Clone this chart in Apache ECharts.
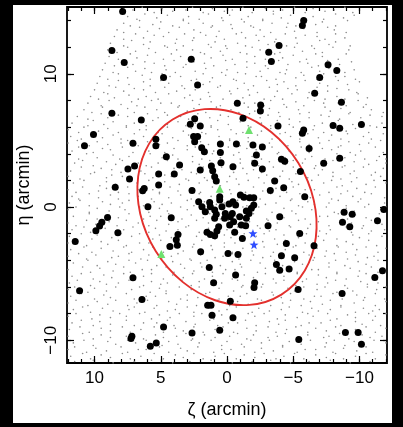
<!DOCTYPE html>
<html><head><meta charset="utf-8">
<script src="https://cdn.jsdelivr.net/npm/echarts@6/dist/echarts.min.js"></script>
<style>
html,body{margin:0;padding:0;background:#000;}
#paper{position:absolute;left:13px;top:5px;width:379px;height:418px;background:#fff;}
#chart{position:absolute;left:0;top:0;width:403px;height:427px;}
</style></head><body>
<div id="paper"></div><div id="chart"></div>
<script>
// axis ranges (arcmin)
const X_RANGE = [-12.08, 12.08];
const Y_RANGE = [-11.71, 15.02];
const X_MAJOR = [-10, -5, 0, 5, 10];
const X_MINOR = [-12,-11,-10,-9,-8,-7,-6,-5,-4,-3,-2,-1,0,1,2,3,4,5,6,7,8,9,10,11,12];
const Y_MAJOR = [-10, 0, 10];
const Y_MINOR = [-10,-8,-6,-4,-2,0,2,4,6,8,10,12,14];

// cluster member candidates [zeta, eta]
const MEMBERS = [[7.88,14.69],[8.69,11.75],[7.76,10.85],[2.70,11.10],[4.79,9.72],[2.22,9.17],[8.69,7.04],[6.47,6.54],[10.08,5.44],[10.76,4.61],[7.10,4.79],[-0.78,7.79],[-1.21,6.67],[-2.54,7.67],[-2.52,7.22],[-3.15,11.63],[-3.35,10.93],[-3.93,12.13],[-5.79,14.01],[-5.69,13.63],[-7.63,10.68],[-8.29,10.25],[-7.00,9.72],[-6.62,8.55],[-8.64,7.87],[-3.85,6.09],[-8.01,6.12],[-8.51,5.91],[-10.15,6.19],[-5.79,5.79],[-5.69,5.54],[-6.20,4.39],[-7.30,3.28],[-8.51,3.66],[-11.84,-0.18],
[2.44,6.62],[2.77,6.22],[2.02,6.09],[2.52,5.29],[2.22,5.29],[2.44,4.91],[5.37,5.09],[5.37,4.61],[4.58,3.78],[1.91,4.46],[1.71,4.16],[0.50,4.74],[0.50,4.09],[-0.71,4.74],[-1.96,4.66],[-2.67,4.51],[-2.22,3.91],[-2.09,3.28],[-0.45,3.03],[-2.67,2.86],[-4.11,3.58],[-4.36,3.43],[-5.54,2.66],[-3.60,1.95],[-3.27,1.25],[-4.28,1.45],[-5.87,0.78],[3.58,3.16],[2.02,2.78],[1.18,3.08],[1.08,2.73],[0.93,2.28],[0.81,1.95],[0.45,3.33],[3.98,2.48],[5.16,2.48],[5.16,1.65],[6.25,1.40],[6.37,1.23],[7.48,2.86],[6.98,3.08],[7.36,2.11],[8.44,1.48],[2.64,1.25],[5.97,0.03],[4.21,-0.80],[9.02,-0.78],[9.45,-1.15],[9.62,-1.43],[9.90,-1.78],[8.24,-1.93],[11.46,-2.58],[3.70,-2.06],[3.83,-2.46],[4.31,-2.96],[3.75,-2.86],[1.99,-3.36],[1.34,-4.54],[1.01,-5.69],[-0.08,-3.48],[-0.83,-3.56],[-0.65,-5.11],[-4.11,-3.66],[-5.11,-3.81],[-3.73,-4.31],[-3.98,-4.74],[-4.69,-4.66],[-2.09,-5.69],[-2.04,-6.04],[-5.37,-6.19],[-0.25,-7.07],[1.46,-7.37],[1.21,-7.37],[1.13,-8.12],[-0.45,-8.32],[0.55,-9.25],[2.64,-9.45],[4.79,-9.00],[5.34,-10.20],[5.79,-10.45],[7.18,-9.70],[7.25,-9.87],[7.10,-5.31],[6.42,-6.94],[11.13,-6.29],[-5.42,-9.95],[-8.69,-6.49],[-8.94,-9.42],[-9.90,-9.42],[-10.15,-10.30],[-11.16,-5.29],[-11.74,-4.79],[-11.36,-1.03],[-8.84,-0.40],[-9.45,-0.55],[-8.72,-1.15],[-9.27,-1.48],[-5.49,-1.98],[-4.48,-2.73],[-6.57,-2.91],[-3.98,-0.73],[-3.10,-1.40],[-1.16,-2.36],
[2.14,0.40],[1.89,0.03],[1.64,-0.35],[1.31,0.35],[1.26,0.03],[0.93,-0.23],[0.81,-0.55],[0.93,-0.85],[0.55,0.78],[0.55,0.53],[0.38,0.03],[0.13,-0.48],[0.18,-0.85],[1.51,-1.90],[1.26,-2.06],[0.93,-2.16],[0.63,-1.48],[0.76,-1.80],[-1.01,0.90],[-1.28,0.73],[-1.71,0.70],[-2.02,0.70],[-0.45,0.40],[-0.15,0.23],[-0.65,0.15],[-2.02,0.15],[-1.84,-0.10],[-1.46,-0.30],[-1.66,-0.48],[-0.40,-0.48],[-0.25,-0.73],[-0.96,-0.73],[-1.46,-0.85],[-0.50,-1.10],[-0.20,-1.35],[-1.08,-1.35],[-1.41,-1.40],[-0.58,-1.90]];

const GREEN_TRIANGLES = [[-1.66,5.79],[0.55,1.38],[4.96,-3.53]];
const BLUE_STARS = [[-1.96,-1.98],[-2.04,-2.83]];

// ellipse: centre zeta, centre eta, semi-major, semi-minor, position angle of major axis (deg, from +eta toward +zeta)
const ELLIPSE = [0.0, 0.0, 7.75, 6.32, 32];

// field stars, flat pairs zeta,eta in tenths of arcmin
const FIELD_TENTHS = [
71,148,64,150,55,146,49,149,41,147,31,148,26,150,18,146,11,149,2,147,-4,148,-12,150,-19,146,-29,149,-35,147,-42,148,-51,150,-59,146,-65,149,-74,147,-81,148,-89,150,-95,146,
75,143,68,141,62,145,53,142,45,144,33,141,29,143,21,141,14,145,4,142,-2,144,-11,141,-16,143,-27,141,-35,145,-41,142,-48,144,-60,141,-65,143,-73,141,-82,145,-88,142,-96,144,
78,138,73,136,66,140,56,137,50,139,41,136,33,140,29,138,18,138,11,136,3,140,-3,137,-13,139,-18,136,-27,140,-34,138,-46,138,-52,136,-60,140,-67,137,-72,139,-82,136,-91,140,
83,133,78,131,66,135,60,132,51,134,44,131,36,135,25,133,20,131,12,135,6,132,-4,134,-11,131,-20,135,-25,133,-33,131,-45,135,-51,132,-58,134,-68,131,-76,135,-81,133,-90,131,
85,128,78,126,69,130,63,127,55,129,48,128,38,126,32,130,25,127,16,129,8,128,2,126,-7,130,-14,127,-22,129,-28,128,-37,126,-44,130,-52,127,-59,129,-68,128,-74,126,-82,130,-89,127,
88,123,78,121,72,125,63,122,58,124,47,121,39,123,33,121,26,125,14,122,9,124,1,121,-8,123,-14,121,-24,125,-31,122,-36,124,-45,121,-53,123,-64,121,-70,125,-77,122,-82,124,-93,121,
90,118,83,116,75,120,69,117,59,119,54,116,45,120,38,118,26,118,20,116,12,120,5,117,0,119,-10,116,-19,120,-25,118,-33,118,-40,116,-51,120,-57,117,-66,119,-72,116,-80,120,-92,118,
89,113,82,111,73,115,68,112,60,114,48,111,42,115,35,113,25,111,17,115,12,112,3,114,-4,111,-15,115,-21,113,-29,111,-36,115,-42,112,-50,114,-60,111,-67,115,-72,113,-84,111,-90,115,
92,108,85,106,77,110,71,107,62,109,55,108,47,106,40,110,31,107,25,109,17,108,10,106,1,110,-6,107,-15,109,-21,108,-29,106,-39,110,-46,107,-55,109,-61,108,-69,106,-76,110,-85,107,-94,109,
94,103,86,101,75,105,69,102,62,104,57,101,46,103,39,101,33,105,24,102,16,104,4,101,0,103,-8,101,-15,105,-25,102,-31,104,-40,101,-45,103,-56,101,-64,105,-70,102,-77,104,-89,101,-96,103,
96,98,90,96,82,100,75,97,64,99,58,96,49,100,43,98,35,98,23,96,18,100,11,97,1,99,-5,96,-14,100,-22,98,-26,98,-37,96,-44,100,-52,97,-58,99,-68,96,-73,100,-82,98,-89,98,-97,96,
98,93,89,91,82,95,74,92,63,94,58,91,50,95,44,93,34,91,27,95,18,92,13,94,5,91,-7,95,-13,93,-20,91,-30,95,-38,92,-43,94,-52,91,-59,95,-70,93,-76,91,-84,95,-91,92,-100,94,
100,88,93,86,84,90,78,87,70,89,63,88,54,86,47,90,38,87,32,89,24,88,14,86,7,90,-2,87,-8,89,-16,88,-23,86,-32,90,-38,87,-46,89,-53,88,-62,86,-68,90,-76,87,-83,89,-92,88,-98,86,
103,83,97,81,90,85,85,82,74,84,67,81,61,83,52,81,44,85,32,82,28,84,20,81,13,83,3,81,-3,85,-12,82,-17,84,-28,81,-36,83,-42,81,-49,85,-61,82,-66,84,-74,81,-83,83,-89,81,-99,85,-106,82,
105,78,95,76,89,80,80,77,72,79,68,76,57,80,50,78,42,78,36,76,26,80,21,77,12,79,5,76,-7,80,-13,78,-21,78,-28,76,-33,80,-43,77,-52,79,-58,76,-66,80,-73,78,-84,78,-90,76,-99,80,-105,77,
108,73,102,71,94,75,87,72,75,74,70,71,62,75,53,73,47,71,37,75,30,72,25,74,16,71,8,75,-3,73,-9,71,-16,75,-21,72,-32,74,-39,71,-45,75,-54,73,-62,71,-74,75,-78,72,-86,74,-93,71,-103,75,-109,73,-118,71,
113,68,105,66,95,70,90,67,82,69,75,68,66,66,60,70,52,67,45,69,35,68,29,66,22,70,13,67,5,69,-1,68,-10,66,-17,70,-25,67,-31,69,-40,68,-47,66,-55,70,-62,67,-71,69,-77,68,-85,66,-92,70,-101,67,-108,69,-117,68,
117,63,105,61,101,65,93,62,86,64,76,61,70,63,61,61,56,65,45,62,37,64,31,61,24,63,12,61,7,65,-1,62,-10,64,-16,61,-26,63,-33,61,-38,65,-47,62,-55,64,-66,61,-72,63,-79,61,-84,65,-95,62,-102,64,-108,61,-117,63,
120,58,112,56,108,60,97,57,90,59,82,56,76,60,66,58,61,58,52,56,45,60,33,57,27,59,19,56,12,60,7,58,-3,58,-12,56,-18,60,-26,57,-33,59,-44,56,-50,60,-59,58,-65,58,-73,56,-85,60,-90,57,-97,59,-107,56,-113,60,
118,53,110,51,99,55,94,52,86,54,80,51,70,55,63,53,54,51,49,55,41,52,29,54,23,51,16,55,6,53,-2,51,-7,55,-16,52,-23,54,-34,51,-40,55,-48,53,-55,51,-61,55,-69,52,-79,54,-86,51,-91,55,-103,53,-109,51,-118,55,
120,48,113,50,104,46,98,49,90,47,80,48,75,50,67,46,60,49,51,47,45,48,37,50,30,46,20,49,14,47,7,48,-2,50,-10,46,-16,49,-25,47,-32,48,-40,50,-46,46,-55,49,-62,47,-70,48,-77,50,-86,46,-92,49,-100,47,-107,48,-116,50,
117,42,112,45,101,41,94,44,88,43,79,45,71,41,59,42,55,45,47,41,40,44,30,43,24,45,15,41,10,42,-1,45,-9,41,-15,44,-22,43,-34,45,-39,41,-47,42,-56,45,-62,41,-72,44,-79,43,-84,45,-93,41,-101,42,-112,45,-118,41,
121,38,112,36,106,40,98,37,86,39,81,36,74,38,64,36,58,40,49,37,41,39,37,36,26,38,19,36,11,40,5,37,-5,39,-10,36,-19,38,-26,36,-38,40,-44,37,-52,39,-59,36,-64,38,-74,36,-83,40,-89,37,-97,39,-104,36,-115,38,-120,36,
115,33,109,35,101,31,91,34,84,32,79,35,67,33,61,31,52,33,45,35,37,31,26,34,21,32,13,35,7,33,-3,31,-10,33,-19,35,-24,31,-32,34,-44,32,-50,35,-57,33,-67,31,-75,33,-80,35,-89,31,-96,34,-107,32,-113,35,-120,33,
118,27,110,30,100,26,95,29,87,28,80,26,71,30,65,27,57,30,50,26,40,29,34,28,27,26,18,30,10,27,4,30,-5,26,-12,29,-20,28,-26,26,-35,30,-42,27,-50,30,-57,26,-66,29,-72,28,-80,26,-87,30,-96,27,-103,30,-112,26,-118,29,
120,23,111,21,103,25,91,22,87,24,79,23,72,21,62,25,56,22,47,24,42,23,31,21,23,25,17,22,10,24,-2,23,-7,21,-15,25,-24,22,-30,24,-40,23,-47,21,-52,25,-61,22,-69,24,-80,23,-86,21,-93,25,-98,22,-109,24,-116,23,
116,18,108,20,96,16,91,19,84,17,74,20,68,18,59,20,51,16,47,19,36,17,29,20,21,18,15,20,5,16,0,19,-9,17,-16,20,-28,18,-34,20,-42,16,-49,19,-54,17,-64,20,-73,18,-79,20,-87,16,-94,19,-105,17,-111,20,-120,18,
120,13,114,11,109,15,97,12,91,14,82,11,75,15,67,13,56,13,51,11,43,15,37,12,27,14,20,11,11,15,6,13,-2,13,-14,11,-20,15,-27,12,-37,14,-45,11,-50,15,-59,13,-66,13,-77,11,-83,15,-91,12,-98,14,-104,11,-112,15,
117,8,112,6,104,10,97,7,88,9,82,6,74,10,67,8,57,6,51,10,44,7,35,9,27,6,21,10,12,8,5,6,-3,10,-9,7,-18,9,-25,6,-33,10,-40,8,-49,6,-55,10,-63,7,-70,9,-79,6,-86,10,-95,8,-101,6,-109,10,-119,7,
119,3,111,5,104,1,94,4,88,2,79,3,74,5,63,1,55,4,49,2,42,3,30,5,25,1,17,4,8,2,2,3,-8,5,-15,1,-20,4,-29,2,-37,3,-48,5,-54,1,-61,4,-66,2,-77,3,-84,5,-90,1,-99,4,-107,2,-119,3,
120,-2,114,0,104,-4,98,-1,89,-3,81,0,77,-2,66,0,59,-4,51,-1,45,-3,35,0,30,-2,21,0,14,-4,2,-1,-4,-3,-12,0,-19,-2,-24,0,-34,-4,-43,-1,-49,-3,-57,0,-64,-2,-75,0,-81,-4,-90,-1,-96,-3,-104,0,-116,-2,-120,0,
116,-7,104,-5,98,-9,89,-6,82,-8,74,-5,63,-9,58,-7,50,-7,44,-5,34,-9,27,-6,18,-8,13,-5,5,-9,-7,-7,-13,-7,-20,-5,-30,-9,-38,-6,-43,-8,-52,-5,-59,-9,-70,-7,-76,-7,-84,-5,-91,-9,-97,-6,-105,-8,-115,-5,
120,-12,114,-14,106,-10,99,-13,89,-11,83,-14,76,-10,67,-12,59,-14,53,-10,44,-13,37,-11,29,-14,23,-10,14,-12,7,-14,-1,-10,-8,-13,-17,-11,-23,-14,-31,-10,-38,-12,-47,-14,-54,-10,-63,-13,-69,-11,-77,-14,-87,-10,-94,-12,-103,-14,-109,-10,-117,-13,
117,-17,108,-15,103,-19,92,-16,84,-18,78,-17,71,-15,59,-19,54,-16,46,-18,37,-17,31,-15,21,-19,14,-16,9,-18,0,-17,-8,-15,-19,-19,-25,-16,-32,-18,-37,-17,-48,-15,-55,-19,-61,-16,-70,-18,-78,-17,-90,-15,-94,-19,-102,-16,-109,-18,-119,-17,
119,-22,110,-20,102,-24,98,-21,87,-23,80,-20,72,-22,66,-20,56,-24,51,-21,42,-23,35,-20,23,-22,17,-20,9,-24,2,-21,-3,-23,-13,-20,-22,-22,-28,-20,-36,-24,-43,-21,-54,-23,-60,-20,-69,-22,-75,-20,-83,-24,-95,-21,-100,-23,-107,-20,-117,-22,
120,-27,114,-25,106,-29,95,-26,90,-28,82,-25,76,-29,66,-27,59,-27,50,-25,45,-29,37,-26,25,-28,19,-25,12,-29,2,-27,-6,-27,-11,-25,-20,-29,-27,-26,-38,-28,-44,-25,-52,-29,-59,-27,-65,-27,-73,-25,-83,-29,-90,-26,-95,-28,-107,-25,-113,-29,
118,-32,108,-30,102,-34,95,-31,86,-33,78,-30,72,-34,63,-32,56,-30,48,-34,42,-31,33,-33,26,-30,18,-34,11,-32,2,-30,-4,-34,-12,-31,-19,-33,-28,-30,-35,-34,-44,-32,-50,-30,-58,-34,-68,-31,-75,-33,-84,-30,-90,-34,-98,-32,-105,-30,-114,-34,-120,-31,
120,-37,112,-35,106,-39,99,-36,87,-38,82,-37,74,-35,65,-39,59,-36,49,-38,42,-37,37,-35,28,-39,20,-36,9,-38,3,-37,-4,-35,-9,-39,-20,-36,-27,-38,-33,-37,-42,-35,-50,-39,-62,-36,-66,-38,-74,-37,-81,-35,-91,-39,-97,-36,-106,-38,-111,-37,
116,-42,105,-40,98,-44,90,-41,84,-43,74,-40,69,-42,60,-40,53,-44,41,-41,35,-43,27,-40,20,-42,15,-40,5,-44,-4,-41,-10,-43,-18,-40,-25,-42,-36,-40,-42,-44,-51,-41,-57,-43,-65,-40,-77,-42,-82,-40,-89,-44,-99,-41,-105,-43,-114,-40,
120,-47,109,-45,103,-49,96,-46,86,-48,78,-45,73,-49,64,-47,57,-47,46,-45,40,-49,32,-46,25,-48,19,-45,11,-49,1,-47,-6,-47,-11,-45,-23,-49,-29,-46,-38,-48,-45,-45,-53,-49,-64,-47,-69,-47,-77,-45,-83,-49,-93,-46,-100,-48,-109,-45,-114,-49,
117,-52,110,-50,101,-54,93,-51,87,-53,78,-50,71,-54,63,-52,57,-50,48,-54,41,-51,33,-53,26,-50,17,-54,11,-52,3,-50,-4,-54,-13,-51,-20,-53,-29,-50,-35,-54,-43,-52,-53,-50,-60,-54,-69,-51,-75,-53,-83,-50,-90,-54,-99,-52,-105,-50,-113,-54,
119,-57,113,-55,103,-59,96,-56,91,-58,82,-57,74,-55,63,-59,57,-56,50,-58,45,-57,34,-55,27,-59,21,-56,12,-58,4,-57,-8,-55,-12,-59,-20,-56,-27,-58,-37,-57,-43,-55,-52,-59,-57,-56,-68,-58,-76,-57,-82,-55,-89,-59,-101,-56,-106,-58,-114,-57,
120,-62,115,-60,105,-64,100,-61,91,-63,84,-60,72,-62,66,-60,58,-64,51,-61,46,-63,36,-60,27,-62,21,-60,13,-64,6,-61,-5,-63,-11,-60,-20,-62,-26,-60,-34,-64,-46,-61,-51,-63,-58,-60,-68,-62,-74,-60,-83,-64,-91,-61,-95,-63,-106,-60,-113,-62,-120,-60,
118,-67,110,-65,100,-69,93,-66,88,-68,76,-65,70,-69,61,-67,54,-67,46,-65,35,-69,30,-66,22,-68,16,-65,6,-69,-1,-67,-10,-67,-15,-65,-23,-69,-35,-66,-41,-68,-48,-65,-58,-69,-66,-67,-71,-67,-80,-65,-87,-69,-98,-66,-104,-68,-112,-65,-119,-69,
120,-72,114,-70,105,-74,98,-71,90,-73,84,-70,75,-74,68,-72,60,-70,53,-74,44,-71,38,-73,30,-70,23,-74,14,-72,7,-70,-2,-74,-8,-71,-16,-73,-26,-70,-33,-74,-42,-72,-48,-70,-56,-74,-63,-71,-72,-73,-78,-70,-86,-74,-96,-72,-103,-70,-112,-74,-120,-71,
116,-77,109,-75,103,-79,94,-76,86,-78,74,-77,70,-75,62,-79,55,-76,45,-78,39,-77,30,-75,25,-79,14,-76,6,-78,0,-77,-7,-75,-19,-79,-24,-76,-32,-78,-41,-77,-47,-75,-57,-79,-64,-76,-69,-78,-78,-77,-86,-75,-97,-79,-103,-76,-110,-78,-115,-77,
120,-82,114,-80,102,-84,96,-81,88,-83,81,-80,76,-82,66,-80,57,-84,51,-81,43,-83,36,-80,25,-82,19,-80,10,-84,4,-81,-4,-83,-16,-80,-21,-82,-28,-80,-38,-84,-44,-81,-53,-83,-61,-80,-65,-82,-76,-80,-83,-84,-91,-81,-97,-83,-107,-80,-112,-82,-120,-80,
117,-87,110,-85,101,-89,96,-86,88,-88,76,-85,70,-89,63,-87,53,-87,45,-85,40,-89,31,-86,24,-88,13,-85,7,-89,-1,-87,-8,-87,-14,-85,-22,-89,-32,-86,-39,-88,-44,-85,-56,-89,-62,-87,-71,-87,-78,-85,-86,-89,-97,-86,-102,-88,-110,-85,-116,-89,
119,-92,111,-90,104,-94,95,-91,88,-93,79,-90,73,-94,65,-92,55,-90,48,-94,39,-91,33,-93,25,-90,18,-94,9,-92,3,-90,-5,-94,-15,-91,-22,-93,-31,-90,-37,-94,-45,-92,-52,-90,-61,-94,-67,-91,-75,-93,-82,-90,-91,-94,-97,-92,-105,-90,-112,-94,-120,-91,
120,-97,109,-95,101,-99,95,-96,88,-98,76,-97,71,-95,63,-99,54,-96,48,-98,38,-97,31,-95,26,-99,17,-96,9,-98,-2,-97,-8,-95,-15,-99,-20,-96,-31,-98,-38,-97,-44,-95,-53,-99,-61,-96,-73,-98,-77,-97,-85,-95,-92,-99,-102,-96,-108,-98,-117,-97,
116,-102,108,-100,101,-104,90,-101,84,-103,75,-100,69,-102,61,-100,49,-104,44,-101,37,-103,27,-100,21,-102,12,-100,4,-104,0,-101,-11,-103,-18,-100,-26,-102,-32,-100,-42,-104,-47,-101,-56,-103,-63,-100,-75,-102,-81,-100,-89,-104,-96,-101,-101,-103,-111,-100,-120,-102,
120,-107,115,-105,106,-109,99,-106,91,-108,80,-105,75,-109,67,-107,61,-107,51,-105,44,-109,35,-106,30,-108,22,-105,10,-109,4,-107,-3,-107,-13,-105,-21,-109,-26,-106,-35,-108,-42,-105,-53,-109,-59,-107,-67,-107,-74,-105,-80,-109,-88,-106,-98,-108,-105,-105,-110,-109,
118,-112,109,-110,103,-114,95,-111,88,-113,79,-110,73,-114,65,-112,55,-110,48,-114,39,-111,33,-113,25,-110,18,-114,9,-112,2,-110,-7,-114,-13,-111,-21,-113,-28,-110,-37,-114,-43,-112,-51,-110,-58,-114,-67,-111,-75,-113,-82,-110,-88,-114,-97,-112,-105,-110,-112,-114,-120,-111,
115,-116,101,-115,86,-117,70,-116,57,-115,41,-117,28,-116,12,-115,-4,-117,-19,-116,-33,-115,-48,-117,-62,-116,-78,-115,-93,-117,-108,-116
];

const FIELD = [];
for (let i = 0; i < FIELD_TENTHS.length; i += 2) FIELD.push([FIELD_TENTHS[i] / 10, FIELD_TENTHS[i + 1] / 10]);

const FONT = 'Liberation Sans';
const minusFmt = v => (v < 0 ? '\u2212' + Math.abs(v) : String(v));
const STAR = 'path://M0,-10L2.35,-3.24L9.51,-3.09L3.8,1.24L5.88,8.09L0,4L-5.88,8.09L-3.8,1.24L-9.51,-3.09L-2.35,-3.24Z';

function xAx(pos, vals, len, labels) {
  return {
    type: 'value', position: pos, min: X_RANGE[0], max: X_RANGE[1], inverse: true,
    splitLine: {show: false}, axisLine: {show: false, onZero: false},
    axisTick: {show: true, inside: true, length: len, customValues: vals, lineStyle: {color: '#000', width: 1.2}},
    axisLabel: labels ? {show: true, customValues: X_MAJOR, formatter: minusFmt, color: '#000', fontSize: 17, fontFamily: FONT, margin: 7} : {show: false},
    name: labels ? '\u03b6 (arcmin)' : '', nameLocation: 'middle', nameGap: 38,
    nameTextStyle: {color: '#000', fontSize: 18, fontFamily: FONT}
  };
}
function yAx(pos, vals, len, labels) {
  return {
    type: 'value', position: pos, min: Y_RANGE[0], max: Y_RANGE[1],
    splitLine: {show: false}, axisLine: {show: false, onZero: false},
    axisTick: {show: true, inside: true, length: len, customValues: vals, lineStyle: {color: '#000', width: 1.2}},
    axisLabel: labels ? {show: true, customValues: Y_MAJOR, formatter: minusFmt, rotate: 90, color: '#000', fontSize: 17, fontFamily: FONT, margin: 7} : {show: false},
    name: labels ? '\u03b7 (arcmin)' : '', nameLocation: 'middle', nameGap: 34,
    nameTextStyle: {color: '#000', fontSize: 18, fontFamily: FONT}
  };
}

const chart = echarts.init(document.getElementById('chart'), null, {renderer: 'canvas'});
chart.setOption({
  animation: false,
  backgroundColor: 'transparent',
  grid: {left: 67, top: 7, width: 320, height: 356, show: true, borderColor: '#000', borderWidth: 1.8, backgroundColor: '#fff'},
  xAxis: [xAx('bottom', X_MAJOR, 7, true), xAx('bottom', X_MINOR, 4, false), xAx('top', X_MAJOR, 7, false), xAx('top', X_MINOR, 4, false)],
  yAxis: [yAx('left', Y_MAJOR, 7, true), yAx('left', Y_MINOR, 4, false), yAx('right', Y_MAJOR, 7, false), yAx('right', Y_MINOR, 4, false)],
  series: [
    {type: 'scatter', data: FIELD, symbol: 'circle', symbolSize: 1.6, itemStyle: {color: '#8c8c8c', opacity: 1}, silent: true, z: 1},
    {type: 'custom', data: [ELLIPSE], silent: true, z: 2, clip: false,
     encode: {x: 0, y: 1},
     renderItem: function (params, api) {
       const cz = api.value(0), ce = api.value(1), a = api.value(2), b = api.value(3), pa = api.value(4) * Math.PI / 180;
       const c = api.coord([cz, ce]);
       const pA = api.coord([cz + a * Math.sin(pa), ce + a * Math.cos(pa)]);
       const pB = api.coord([cz + b * Math.cos(pa), ce - b * Math.sin(pa)]);
       const rx = Math.hypot(pA[0] - c[0], pA[1] - c[1]);
       const ry = Math.hypot(pB[0] - c[0], pB[1] - c[1]);
       const ang = Math.atan2(pA[1] - c[1], pA[0] - c[0]);
       return {type: 'ellipse', x: c[0], y: c[1], rotation: -ang,
               shape: {cx: 0, cy: 0, rx: rx, ry: ry},
               style: {fill: 'none', stroke: '#e3302d', lineWidth: 1.9}};
     }},
    {type: 'scatter', data: MEMBERS, symbol: 'circle', symbolSize: 7, itemStyle: {color: '#000', opacity: 1}, z: 3},
    {type: 'scatter', data: GREEN_TRIANGLES, symbol: 'triangle', symbolSize: 8, itemStyle: {color: '#6fe06f', opacity: 1}, z: 4},
    {type: 'scatter', data: BLUE_STARS, symbol: STAR, symbolSize: 9, itemStyle: {color: '#2f4dff', opacity: 1}, z: 4}
  ]
});
</script>
</body></html>
